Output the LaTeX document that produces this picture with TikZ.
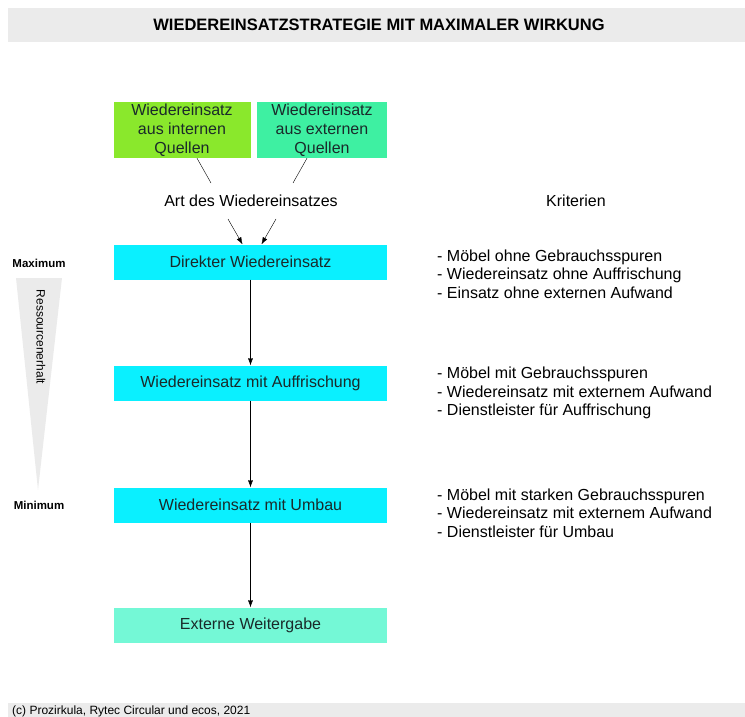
\documentclass[tikz,border=0pt]{standalone}
\usepackage{fontspec}
\setmainfont{Liberation Sans}
\usetikzlibrary{positioning,arrows.meta}

\definecolor{bandgray}{HTML}{EBEBEB}
\definecolor{limegreen}{HTML}{8AE82C}
\definecolor{mintgreen}{HTML}{3EF0A2}
\definecolor{boxcyan}{HTML}{0AF0FF}
\definecolor{aqua}{HTML}{74F8D6}
\definecolor{textdark}{HTML}{1A2A2A}

\tikzset{
    stagebox/.style={fill=boxcyan, minimum width=273pt, minimum height=35pt,
        inner sep=0pt, font=\fontsize{16}{19}\selectfont, text=textdark},
    sourcebox/.style={minimum width=137pt, minimum height=56pt, inner sep=0pt,
        align=center, font=\fontsize{16}{19}\selectfont, text=textdark},
    crit/.style={anchor=west, align=left, inner sep=0pt,
        font=\fontsize{16}{18.5}\selectfont},
    flow/.style={-{Latex[length=7pt,width=5pt]}, thin},
    sidelabel/.style={font=\fontsize{11.5}{13}\selectfont\bfseries, inner sep=0pt},
}

\begin{document}
\begin{tikzpicture}[x=1pt,y=-1pt]
\useasboundingbox (0,0) rectangle (745,717);

% Titel und Fusszeile
\fill[bandgray] (8,8) rectangle (745,42);
\node (title) at (379,25) {\fontsize{16.5}{18}\selectfont\bfseries WIEDEREINSATZSTRATEGIE MIT MAXIMALER WIRKUNG};
\fill[bandgray] (8,703) rectangle (745,717);
\node[anchor=west, inner sep=0pt, font=\fontsize{12}{13}\selectfont] (copy) at (12,711) {(c) Prozirkula, Rytec Circular und ecos, 2021};

% Quellen
\node[sourcebox, fill=limegreen] (intern) at (182,130) {Wiedereinsatz\\aus internen\\Quellen};
\node[sourcebox, fill=mintgreen, minimum width=130pt] (extern) at (322,130) {Wiedereinsatz\\aus externen\\Quellen};
\node[font=\fontsize{16}{19}\selectfont] (art) at (251,201) {Art des Wiedereinsatzes};

\coordinate (a1) at (211,183);
\coordinate (a2) at (293,183);
\coordinate (b1) at (228,219);
\coordinate (b2) at (276,219);
\draw[thin] ([xshift=15pt]intern.south) -- (a1);
\draw[thin] ([xshift=-15pt]extern.south) -- (a2);

% Stufen
\node[stagebox] (direkt) at (250.5,262) {Direkter Wiedereinsatz};
\node[stagebox] (auffr) at (250.5,383) {Wiedereinsatz mit Auffrischung};
\node[stagebox] (umbau) at (250.5,505) {Wiedereinsatz mit Umbau};
\node[stagebox, fill=aqua] (weiter) at (250.5,625) {Externe Weitergabe};

\draw[flow] (b1) -- ([xshift=-8pt]direkt.north);
\draw[flow] (b2) -- ([xshift=11pt]direkt.north);
\draw[flow] (direkt) -- (auffr);
\draw[flow] (auffr) -- (umbau);
\draw[flow] (umbau) -- (weiter);

% Ressourcenerhalt
\node[sidelabel] (max) at (39,263) {Maximum};
\node[sidelabel] (min) at (39,505) {Minimum};
\fill[bandgray] (16,278) -- (62,278) -- (38,490) -- cycle;
\node[rotate=-90, font=\fontsize{12}{13}\selectfont, inner sep=0pt] (erhalt) at (41,337) {Ressourcenerhalt};

% Kriterien
\node[font=\fontsize{16}{19}\selectfont] (krit) at (576,201) {Kriterien};
\node[crit] (k1) at (437,274) {- Möbel ohne Gebrauchsspuren\\- Wiedereinsatz ohne Auffrischung\\- Einsatz ohne externen Aufwand};
\node[crit] (k2) at (437,393) {- Möbel mit Gebrauchsspuren\\- Wiedereinsatz mit externem Aufwand\\- Dienstleister für Auffrischung};
\node[crit] (k3) at (437,513) {- Möbel mit starken Gebrauchsspuren\\- Wiedereinsatz mit externem Aufwand\\- Dienstleister für Umbau};

\end{tikzpicture}
\end{document}
